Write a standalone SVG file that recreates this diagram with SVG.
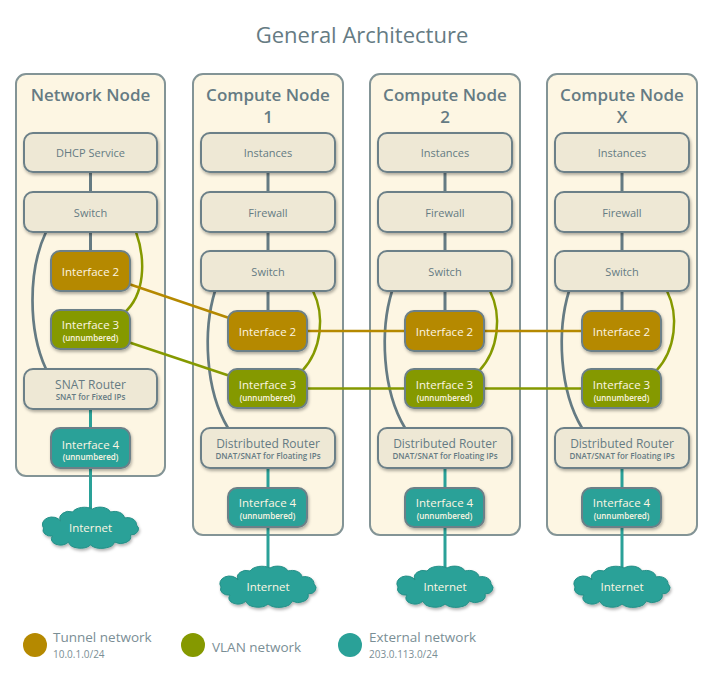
<svg xmlns="http://www.w3.org/2000/svg" xmlns:xlink="http://www.w3.org/1999/xlink" width="712" height="683" viewBox="0 0 712 683">
<style>
text{font-family:"Open Sans","Liberation Sans",sans-serif;text-anchor:middle;fill:#657b83}
.title{font-size:22px}
.ctitle{font-size:17px;font-weight:600}
.container{fill:#fdf6e3;stroke:#839496;stroke-width:2}
.box{fill:#eee8d5;stroke:#6c8088;stroke-width:2;filter:url(#sh)}
.t2{fill:#b58900;stroke:#6c8088;stroke-width:2;filter:url(#sh)}
.t3{fill:#859900;stroke:#6c8088;stroke-width:2;filter:url(#sh)}
.t4{fill:#2aa198;stroke:#6c8088;stroke-width:2;filter:url(#sh)}
.cloud{fill:#2aa198;stroke:#268f87;stroke-width:1;filter:url(#sh)}
.lbl{font-size:11px;font-weight:500}
.big{font-size:12px}
.sub{font-size:8px;font-weight:600}
.ilbl{font-size:11.5px;font-weight:500;fill:#fdf6e3}
.isub{font-size:8px;font-weight:600;fill:#fdf6e3}
.grey{stroke:#657b83;stroke-width:3;fill:none}
.curve{stroke:#657b83;stroke-width:2.7;fill:none}
.tun{stroke:#b58900;stroke-width:2.5;fill:none}
.vlan{stroke:#859900;stroke-width:2.5;fill:none}
.ext{stroke:#2aa198;stroke-width:3;fill:none}
.leg{font-size:13.5px;text-anchor:start;fill:#7a8e95}
.legs{font-size:10px;text-anchor:start;fill:#7a8e95}
</style>
<defs>
<filter id="sh" x="-20%" y="-20%" width="140%" height="150%">
<feDropShadow dx="1" dy="2" stdDeviation="1.5" flood-color="#000" flood-opacity="0.3"/>
</filter>
<path id="cloudshape" d="M -30,-6 A 9 7 0 0 1 -18,-15 A 13 8 0 0 1 2,-18 A 11 7 0 0 1 20,-15 A 10 7 0 0 1 34,-9 A 9 7 0 0 1 46,-2 A 8 6 0 0 1 40,8 A 10 7 0 0 1 24,15 A 13 7 0 0 1 0,18 A 12 7 0 0 1 -22,15 A 9 6 0 0 1 -38,9 A 8 6 0 0 1 -47,1 A 9 7 0 0 1 -30,-6 Z"/>
</defs>
<rect width="712" height="683" fill="#ffffff"/>
<text class="title" x="362" y="43">General Architecture</text>

<g id="containers">
<g id="network-node">
<rect class="container" x="16" y="74" width="149" height="402" rx="10"/>
<text class="ctitle" x="90.5" y="101">Network Node</text>
</g>
<g id="compute-node-1">
<rect class="container" x="193" y="74" width="150" height="461" rx="10"/>
<text class="ctitle" x="268" y="101">Compute Node</text>
<text class="ctitle" x="268" y="123">1</text>
</g>
<g id="compute-node-2">
<rect class="container" x="370" y="74" width="150" height="461" rx="10"/>
<text class="ctitle" x="445" y="101">Compute Node</text>
<text class="ctitle" x="445" y="123">2</text>
</g>
<g id="compute-node-x">
<rect class="container" x="547" y="74" width="150" height="461" rx="10"/>
<text class="ctitle" x="622" y="101">Compute Node</text>
<text class="ctitle" x="622" y="123">X</text>
</g>
</g>

<g id="connectors">
<line class="grey" x1="90.5" y1="172" x2="90.5" y2="192"/>
<line class="grey" x1="90.5" y1="232" x2="90.5" y2="251"/>
<path class="curve" d="M 46 232 C 28 270, 28 330, 46 369"/>
<path class="vlan" d="M 136 232 C 146 260, 145 295, 124 313"/>
<line class="ext" x1="90.5" y1="409" x2="90.5" y2="428"/>
<line class="ext" x1="90.5" y1="468" x2="90.5" y2="515"/>
<g id="cn1-links">
<line class="grey" x1="268" y1="172" x2="268" y2="192"/>
<line class="grey" x1="268" y1="232" x2="268" y2="251"/>
<line class="grey" x1="268" y1="291" x2="268" y2="311"/>
<path class="curve" d="M 215 291 C 203 330, 205 390, 228 428"/>
<path class="vlan" d="M 313 291 C 325 315, 322 350, 302 371"/>
<line class="ext" x1="268" y1="468" x2="268" y2="488"/>
<line class="ext" x1="268" y1="527" x2="268" y2="575"/>
</g>
<g id="cn2-links" transform="translate(177,0)">
<line class="grey" x1="268" y1="172" x2="268" y2="192"/>
<line class="grey" x1="268" y1="232" x2="268" y2="251"/>
<line class="grey" x1="268" y1="291" x2="268" y2="311"/>
<path class="curve" d="M 215 291 C 203 330, 205 390, 228 428"/>
<path class="vlan" d="M 313 291 C 325 315, 322 350, 302 371"/>
<line class="ext" x1="268" y1="468" x2="268" y2="488"/>
<line class="ext" x1="268" y1="527" x2="268" y2="575"/>
</g>
<g id="cnx-links" transform="translate(354,0)">
<line class="grey" x1="268" y1="172" x2="268" y2="192"/>
<line class="grey" x1="268" y1="232" x2="268" y2="251"/>
<line class="grey" x1="268" y1="291" x2="268" y2="311"/>
<path class="curve" d="M 215 291 C 203 330, 205 390, 228 428"/>
<path class="vlan" d="M 313 291 C 325 315, 322 350, 302 371"/>
<line class="ext" x1="268" y1="468" x2="268" y2="488"/>
<line class="ext" x1="268" y1="527" x2="268" y2="575"/>
</g>
<line class="tun" x1="90.5" y1="271" x2="267.5" y2="331"/>
<line class="tun" x1="267.5" y1="331" x2="621.5" y2="331"/>
<line class="vlan" x1="90.5" y1="329.5" x2="267.5" y2="388.5"/>
<line class="vlan" x1="267.5" y1="388.5" x2="621.5" y2="388.5"/>
</g>

<g id="nn-dhcp"><rect class="box" x="24" y="133" width="133" height="39" rx="9"/><text class="lbl" x="90.5" y="157">DHCP Service</text></g>
<g id="nn-switch"><rect class="box" x="24" y="192" width="133" height="40" rx="9"/><text class="lbl" x="90.5" y="216.5">Switch</text></g>
<g id="nn-if2"><rect class="t2" x="51" y="251" width="79" height="40" rx="9"/><text class="ilbl" x="90.5" y="275.5">Interface 2</text></g>
<g id="nn-if3"><rect class="t3" x="51" y="310" width="79" height="39" rx="9"/><text class="ilbl" x="90.5" y="329">Interface 3</text><text class="isub" x="90.5" y="341">(unnumbered)</text></g>
<g id="nn-snat"><rect class="box" x="24" y="369" width="133" height="40" rx="9"/><text class="lbl big" x="90.5" y="388.5">SNAT Router</text><text class="sub" x="90.5" y="400">SNAT for Fixed IPs</text></g>
<g id="nn-if4"><rect class="t4" x="51" y="428" width="79" height="40" rx="9"/><text class="ilbl" x="90.5" y="448.5">Interface 4</text><text class="isub" x="90.5" y="460">(unnumbered)</text></g>
<g id="nn-internet"><use xlink:href="#cloudshape" href="#cloudshape" class="cloud" transform="translate(90.5,527)"/><text class="ilbl" x="90.5" y="531.5">Internet</text></g>

<g id="cn1-instances"><rect class="box" x="201" y="133" width="134" height="39" rx="9"/><text class="lbl" x="268" y="157">Instances</text></g>
<g id="cn1-firewall"><rect class="box" x="201" y="192" width="134" height="40" rx="9"/><text class="lbl" x="268" y="216.5">Firewall</text></g>
<g id="cn1-switch"><rect class="box" x="201" y="251" width="134" height="40" rx="9"/><text class="lbl" x="268" y="275.5">Switch</text></g>
<g id="cn1-if2"><rect class="t2" x="228" y="311" width="79" height="40" rx="9"/><text class="ilbl" x="267.5" y="335.5">Interface 2</text></g>
<g id="cn1-if3"><rect class="t3" x="228" y="369" width="79" height="39" rx="9"/><text class="ilbl" x="267.5" y="388.5">Interface 3</text><text class="isub" x="267.5" y="400.5">(unnumbered)</text></g>
<g id="cn1-router"><rect class="box" x="201" y="428" width="134" height="40" rx="9"/><text class="lbl big" x="268" y="447.5">Distributed Router</text><text class="sub" x="268" y="459">DNAT/SNAT for Floating IPs</text></g>
<g id="cn1-if4"><rect class="t4" x="228" y="488" width="79" height="39" rx="9"/><text class="ilbl" x="267.5" y="507">Interface 4</text><text class="isub" x="267.5" y="519">(unnumbered)</text></g>
<g id="cn1-internet"><use xlink:href="#cloudshape" href="#cloudshape" class="cloud" transform="translate(268,586)"/><text class="ilbl" x="268" y="590.5">Internet</text></g>

<g id="cn2-instances"><rect class="box" x="378" y="133" width="134" height="39" rx="9"/><text class="lbl" x="445" y="157">Instances</text></g>
<g id="cn2-firewall"><rect class="box" x="378" y="192" width="134" height="40" rx="9"/><text class="lbl" x="445" y="216.5">Firewall</text></g>
<g id="cn2-switch"><rect class="box" x="378" y="251" width="134" height="40" rx="9"/><text class="lbl" x="445" y="275.5">Switch</text></g>
<g id="cn2-if2"><rect class="t2" x="405" y="311" width="79" height="40" rx="9"/><text class="ilbl" x="444.5" y="335.5">Interface 2</text></g>
<g id="cn2-if3"><rect class="t3" x="405" y="369" width="79" height="39" rx="9"/><text class="ilbl" x="444.5" y="388.5">Interface 3</text><text class="isub" x="444.5" y="400.5">(unnumbered)</text></g>
<g id="cn2-router"><rect class="box" x="378" y="428" width="134" height="40" rx="9"/><text class="lbl big" x="445" y="447.5">Distributed Router</text><text class="sub" x="445" y="459">DNAT/SNAT for Floating IPs</text></g>
<g id="cn2-if4"><rect class="t4" x="405" y="488" width="79" height="39" rx="9"/><text class="ilbl" x="444.5" y="507">Interface 4</text><text class="isub" x="444.5" y="519">(unnumbered)</text></g>
<g id="cn2-internet"><use xlink:href="#cloudshape" href="#cloudshape" class="cloud" transform="translate(445,586)"/><text class="ilbl" x="445" y="590.5">Internet</text></g>

<g id="cnx-instances"><rect class="box" x="555" y="133" width="134" height="39" rx="9"/><text class="lbl" x="622" y="157">Instances</text></g>
<g id="cnx-firewall"><rect class="box" x="555" y="192" width="134" height="40" rx="9"/><text class="lbl" x="622" y="216.5">Firewall</text></g>
<g id="cnx-switch"><rect class="box" x="555" y="251" width="134" height="40" rx="9"/><text class="lbl" x="622" y="275.5">Switch</text></g>
<g id="cnx-if2"><rect class="t2" x="582" y="311" width="79" height="40" rx="9"/><text class="ilbl" x="621.5" y="335.5">Interface 2</text></g>
<g id="cnx-if3"><rect class="t3" x="582" y="369" width="79" height="39" rx="9"/><text class="ilbl" x="621.5" y="388.5">Interface 3</text><text class="isub" x="621.5" y="400.5">(unnumbered)</text></g>
<g id="cnx-router"><rect class="box" x="555" y="428" width="134" height="40" rx="9"/><text class="lbl big" x="622" y="447.5">Distributed Router</text><text class="sub" x="622" y="459">DNAT/SNAT for Floating IPs</text></g>
<g id="cnx-if4"><rect class="t4" x="582" y="488" width="79" height="39" rx="9"/><text class="ilbl" x="621.5" y="507">Interface 4</text><text class="isub" x="621.5" y="519">(unnumbered)</text></g>
<g id="cnx-internet"><use xlink:href="#cloudshape" href="#cloudshape" class="cloud" transform="translate(622,586)"/><text class="ilbl" x="622" y="590.5">Internet</text></g>

<g id="legend">
<circle cx="35" cy="645" r="12" fill="#b58900"/>
<text class="leg" x="53" y="642">Tunnel network</text>
<text class="legs" x="53" y="658">10.0.1.0/24</text>
<circle cx="193" cy="645" r="12" fill="#859900"/>
<text class="leg" x="212" y="652">VLAN network</text>
<circle cx="350" cy="645" r="12" fill="#2aa198"/>
<text class="leg" x="369" y="642">External network</text>
<text class="legs" x="369" y="658">203.0.113.0/24</text>
</g>
</svg>
